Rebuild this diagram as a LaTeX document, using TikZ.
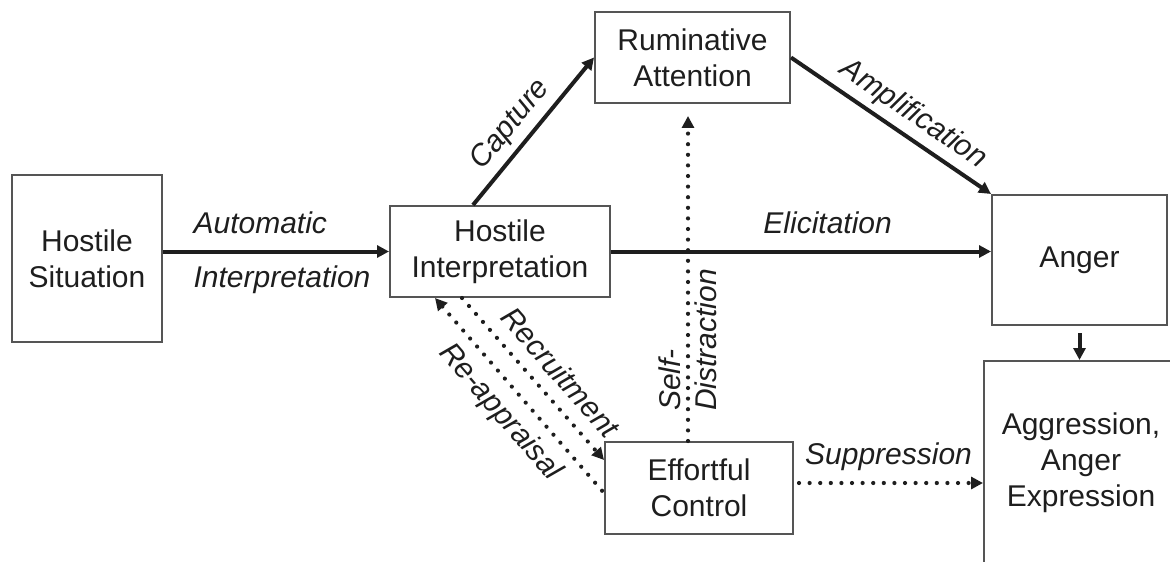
\documentclass[tikz,border=0pt]{standalone}
\usepackage{fontspec}
\setmainfont{Liberation Sans}
\usetikzlibrary{arrows.meta}
\definecolor{boxgray}{HTML}{555555}
\definecolor{inkdark}{HTML}{1E1E1E}
\newcommand{\figfont}{\fontsize{15}{18}\selectfont}
\tikzset{
  >={Triangle[length=6pt,width=6pt]},
  box/.style={draw=boxgray, line width=1pt, align=center, text=inkdark, inner sep=2pt, font=\figfont},
  arr/.style={draw=inkdark, line width=2pt, ->},
  dotarr/.style={draw=inkdark, line width=2.1pt, line cap=round, dash pattern=on 0pt off 5.3pt, ->},
  lbl/.style={font=\figfont\itshape, text=inkdark, inner sep=3pt}
}
\begin{document}
\begin{tikzpicture}[x=0.5pt, y=-0.5pt]
    \useasboundingbox (0,0) rectangle (1170,561);
    \clip (0,0) rectangle (1170,561);
    % boxes
    \node[box, minimum width=75pt, minimum height=83.5pt] (hsit) at (87,258.5) {Hostile\\Situation};
    \node[box, minimum width=110pt, minimum height=45.5pt] (hint) at (500,251.5) {Hostile\\Interpretation};
    \node[box, minimum width=97.5pt, minimum height=45.5pt] (rum) at (692.5,57.5) {Ruminative\\Attention};
    \node[box, minimum width=87.5pt, minimum height=65pt] (anger) at (1079.5,260) {Anger};
    \node[box, minimum width=97pt, minimum height=102pt] (aggr) at (1081,463) {Aggression,\\Anger\\Expression};
    \node[box, minimum width=94pt, minimum height=46pt] (eff) at (699,488) {Effortful\\Control};
    % solid paths
    \draw[arr] (hsit.east |- hint.west) -- (hint.west)
        node[lbl, pos=0.1, anchor=south west, yshift=5pt] {Automatic}
        node[lbl, pos=0.1, anchor=north west, yshift=-3pt] {Interpretation};
    \draw[arr] ([xshift=-13.5pt]hint.north) -- (rum.west) node[lbl, pos=0.45, sloped, above] {Capture};
    \draw[arr] (rum.east) -- (anger.north west) node[lbl, pos=0.55, sloped, above] {Amplification};
    \draw[arr] (hint.east) -- (hint.east -| anger.west) node[lbl, pos=0.57, above=5pt] {Elicitation};
    \draw[arr, shorten <=3.5pt] (anger.south) -- (anger.south |- aggr.north);
    % dotted paths from effortful control
    \draw[dotarr, shorten <=2.5pt] ([yshift=2.5pt]eff.east) -- ([yshift=2.5pt]eff.east -| aggr.west)
        node[lbl, midway, above=2pt] {Suppression};
    \draw[dotarr, shorten >=6pt] ([xshift=-5.5pt]eff.north) -- ([xshift=-5.5pt]eff.north |- rum.south)
        node[lbl, pos=0.3, rotate=90, align=left] {Self-\\Distraction};
    \draw[dotarr] ([xshift=-19pt]hint.south) -- ([yshift=14pt]eff.west)
        node[lbl, pos=0.56, sloped, above=3pt] {Recruitment};
    \draw[dotarr, <-] ([xshift=-32.5pt]hint.south) -- ([yshift=-2.5pt]eff.west)
        node[lbl, midway, sloped, below=2pt] {Re-appraisal};
\end{tikzpicture}
\end{document}
